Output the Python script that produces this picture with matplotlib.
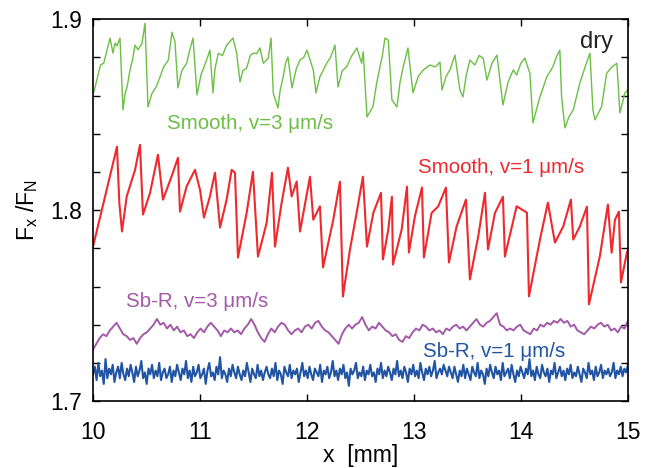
import numpy as np
import matplotlib
matplotlib.use('Agg')
import matplotlib.pyplot as plt
from matplotlib.ticker import MultipleLocator

plt.rcParams['font.family'] = ['Liberation Sans', 'DejaVu Sans']
plt.rcParams['mathtext.default'] = 'regular'

# Smooth, v=3 um/s (green)
green_x = [10.009, 10.040, 10.070, 10.100, 10.130, 10.159, 10.187, 10.206, 10.224, 10.252,
           10.280, 10.300, 10.320, 10.346, 10.370, 10.393, 10.420, 10.458, 10.486, 10.514,
           10.550, 10.590, 10.626, 10.660, 10.704, 10.738, 10.766, 10.794, 10.830, 10.875,
           10.905, 10.935, 10.972, 11.010, 11.062, 11.093, 11.121, 11.140, 11.171, 11.210,
           11.249, 11.308, 11.343, 11.374, 11.400, 11.436, 11.470, 11.498, 11.530, 11.561,
           11.592, 11.638, 11.664, 11.685, 11.729, 11.750, 11.778, 11.800, 11.822, 11.860,
           11.900, 11.935, 11.970, 12.000, 12.059, 12.084, 12.121, 12.150, 12.184, 12.220,
           12.262, 12.290, 12.330, 12.371, 12.420, 12.467, 12.511, 12.526, 12.561, 12.617,
           12.650, 12.682, 12.705, 12.729, 12.760, 12.794, 12.841, 12.870, 12.900, 12.944,
           12.991, 13.040, 13.087, 13.150, 13.200, 13.243, 13.262, 13.300, 13.336, 13.383,
           13.430, 13.458, 13.490, 13.523, 13.570, 13.610, 13.648, 13.682, 13.730, 13.776,
           13.832, 13.880, 13.928, 13.960, 14.000, 14.037, 14.084, 14.112, 14.178, 14.243,
           14.299, 14.330, 14.364, 14.380, 14.411, 14.450, 14.489, 14.551, 14.600, 14.645,
           14.673, 14.692, 14.754, 14.801, 14.850, 14.897, 14.925, 14.972, 15.000]
green_y = [1.8620, 1.8690, 1.8760, 1.8770, 1.8835, 1.8901, 1.8822, 1.8875, 1.8860, 1.8901,
           1.8525, 1.8610, 1.8650, 1.8734, 1.8790, 1.8864, 1.8840, 1.8873, 1.8979, 1.8540,
           1.8610, 1.8645, 1.8697, 1.8750, 1.8786, 1.8932, 1.8882, 1.8640, 1.8730, 1.8769,
           1.8840, 1.8901, 1.8603, 1.8710, 1.8786, 1.8838, 1.8614, 1.8740, 1.8821, 1.8810,
           1.8864, 1.8901, 1.8822, 1.8671, 1.8730, 1.8743, 1.8810, 1.8822, 1.8820, 1.8849,
           1.8769, 1.8795, 1.8901, 1.8612, 1.8535, 1.8630, 1.8699, 1.8770, 1.8802, 1.8640,
           1.8740, 1.8786, 1.8800, 1.8838, 1.8734, 1.8614, 1.8699, 1.8730, 1.8769, 1.8800,
           1.8864, 1.8645, 1.8730, 1.8751, 1.8810, 1.8849, 1.8769, 1.8829, 1.8488, 1.8542,
           1.8660, 1.8749, 1.8810, 1.8901, 1.8890, 1.8577, 1.8540, 1.8670, 1.8751, 1.8849,
           1.8614, 1.8700, 1.8734, 1.8760, 1.8750, 1.8775, 1.8629, 1.8700, 1.8734, 1.8812,
           1.8629, 1.8593, 1.8710, 1.8786, 1.8760, 1.8810, 1.8795, 1.8681, 1.8770, 1.8812,
           1.8551, 1.8670, 1.8734, 1.8708, 1.8770, 1.8796, 1.8716, 1.8457, 1.8594, 1.8699,
           1.8751, 1.8800, 1.8838, 1.8594, 1.8431, 1.8490, 1.8525, 1.8666, 1.8750, 1.8822,
           1.8525, 1.8473, 1.8542, 1.8716, 1.8750, 1.8769, 1.8509, 1.8614, 1.8630]

# Smooth, v=1 um/s (red)
red_x = [10.000, 10.128, 10.224, 10.246, 10.271, 10.315, 10.393, 10.439, 10.467, 10.533,
         10.607, 10.654, 10.735, 10.794, 10.813, 10.875, 10.953, 11.000, 11.037, 11.093,
         11.140, 11.187, 11.249, 11.296, 11.327, 11.355, 11.436, 11.495, 11.542, 11.623,
         11.673, 11.701, 11.763, 11.822, 11.857, 11.904, 11.935, 12.028, 12.059, 12.121,
         12.150, 12.246, 12.308, 12.336, 12.402, 12.464, 12.523, 12.561, 12.620, 12.692,
         12.710, 12.760, 12.794, 12.804, 12.885, 12.935, 12.953, 13.009, 13.075, 13.093,
         13.165, 13.227, 13.299, 13.327, 13.399, 13.486, 13.523, 13.601, 13.664, 13.692,
         13.757, 13.832, 13.850, 13.960, 14.056, 14.075, 14.178, 14.252, 14.318, 14.396,
         14.467, 14.489, 14.551, 14.617, 14.636, 14.738, 14.813, 14.848, 14.879, 14.916,
         14.935, 14.991, 15.000]
red_y = [1.7809, 1.8107, 1.8332, 1.8038, 1.7888, 1.8072, 1.8211, 1.8342, 1.7977, 1.8090,
         1.8290, 1.8055, 1.8177, 1.8274, 1.7992, 1.8124, 1.8211, 1.8107, 1.7961, 1.8072,
         1.8196, 1.7909, 1.8055, 1.8211, 1.8196, 1.7752, 1.7985, 1.8201, 1.7757, 1.7933,
         1.8196, 1.7809, 1.8038, 1.8222, 1.8072, 1.8150, 1.7888, 1.8175, 1.7950, 1.8020,
         1.7700, 1.7950, 1.8149, 1.7548, 1.7794, 1.7985, 1.8175, 1.7809, 1.7985, 1.8091,
         1.7742, 1.7898, 1.8070, 1.7715, 1.7898, 1.8123, 1.7778, 1.7968, 1.8118, 1.7752,
         1.7985, 1.8020, 1.8118, 1.7726, 1.7915, 1.8055, 1.7637, 1.7863, 1.8091, 1.7794,
         1.7985, 1.8070, 1.7757, 1.8020, 1.7987, 1.7548, 1.7846, 1.8039, 1.7830, 1.7915,
         1.8055, 1.7846, 1.7915, 1.8018, 1.7507, 1.7759, 1.8029, 1.7777, 1.7950, 1.7992,
         1.7621, 1.7778, 1.7790]

# Sb-R, v=3 um/s (purple), thousandths above 1.700, evenly spaced over 10..15 mm
purple_k = [27, 30, 33, 35, 34, 37, 39, 41, 38, 35, 34, 32, 33, 30, 33, 35,
            36, 38, 40, 43, 40, 41, 38, 40, 37, 39, 36, 37, 34, 35, 33, 36,
            38, 36, 39, 41, 39, 37, 34, 37, 36, 38, 36, 37, 35, 38, 40, 43,
            40, 36, 33, 31, 35, 38, 36, 39, 41, 40, 37, 35, 37, 38, 36, 39,
            40, 38, 41, 42, 39, 37, 36, 34, 32, 30, 35, 38, 40, 38, 40, 41,
            44, 40, 37, 39, 38, 41, 39, 37, 36, 34, 35, 32, 31, 34, 33, 36,
            38, 37, 40, 39, 37, 38, 36, 37, 35, 38, 37, 39, 40, 38, 39, 37,
            39, 41, 43, 40, 39, 41, 42, 44, 46, 40, 39, 37, 38, 37, 39, 40,
            37, 36, 35, 38, 37, 40, 39, 41, 40, 42, 41, 43, 41, 42, 39, 40,
            37, 36, 35, 37, 39, 38, 40, 41, 39, 40, 37, 38, 36, 39, 38, 42]

# Sb-R, v=1 um/s (blue), thousandths above 1.700, evenly spaced over 10..15 mm
blue_k = [14, 18, 11, 20, 13, 16, 9, 22, 12, 17, 14, 19, 10, 15, 18, 12, 20, 14, 11, 17,
          13, 19, 15, 10, 18, 13, 16, 21, 12, 15, 9, 17, 14, 19, 12, 16, 13, 20, 11, 15,
          17, 12, 14, 18, 10, 16, 13, 19, 15, 11, 17, 14, 21, 12, 16, 10, 18, 13, 15, 19,
          12, 14, 17, 9, 16, 20, 13, 15, 11, 18, 14, 23, 12, 16, 14, 10, 17, 13, 19, 15,
          12, 18, 14, 11, 16, 13, 20, 15, 10, 17, 14, 12, 19, 13, 16, 11, 15, 18, 14, 12,
          17, 13, 20, 11, 16, 14, 9, 18, 15, 13, 19, 12, 16, 14, 17, 10, 15, 20, 13, 16,
          12, 18, 14, 11, 17, 15, 13, 19, 10, 16, 14, 18, 12, 15, 21, 13, 16, 11, 17, 14,
          19, 12, 15, 8, 17, 14, 16, 20, 12, 15, 13, 18, 11, 16, 14, 19, 13, 15, 10, 17,
          14, 20, 12, 16, 13, 18, 15, 11, 17, 14, 21, 13, 16, 12, 18, 15, 10, 17, 14, 19,
          13, 16, 12, 20, 15, 11, 17, 14, 18, 13, 16, 21, 12, 15, 17, 14, 19, 16, 13, 18,
          15, 12, 18, 14, 10, 16, 13, 19, 12, 17, 14, 11, 18, 15, 13, 20, 12, 16, 14, 9,
          17, 13, 19, 15, 12, 18, 14, 16, 11, 20, 13, 15, 17, 12, 19, 14, 10, 16, 13, 18,
          15, 12, 17, 14, 22, 13, 16, 11, 18, 14, 12, 19, 15, 13, 17, 10, 16, 14, 20, 12,
          15, 18, 13, 16, 11, 17, 14, 19, 12, 15, 13, 18, 14, 10, 17, 15, 12, 20, 14, 16,
          11, 18, 13, 15, 19, 12, 16, 14, 17, 13, 15, 20, 12, 16, 14, 18, 13, 17, 15, 19]

c_green = '#6cbf45'
c_red = '#ee2a2e'
c_purple = '#a25aa8'
c_blue = '#2155a3'

purple_x = np.linspace(10, 15, len(purple_k))
purple_y = 1.7 + np.array(purple_k) / 1000.0
blue_x = np.linspace(10, 15, len(blue_k))
blue_y = 1.7 + np.array(blue_k) / 1000.0

fig = plt.figure(figsize=(6.62, 4.68), dpi=100)
ax = fig.add_axes([0.1405, 0.143, 0.808, 0.816])

ax.plot(green_x, green_y, color=c_green, lw=1.0)
ax.plot(red_x, red_y, color=c_red, lw=1.5)
ax.plot(purple_x, purple_y, color=c_purple, lw=1.4)
ax.plot(blue_x, blue_y, color=c_blue, lw=1.5)

ax.set_xlim(10, 15)
ax.set_ylim(1.7, 1.9)
ax.xaxis.set_major_locator(MultipleLocator(1))
ax.yaxis.set_major_locator(MultipleLocator(0.1))
ax.yaxis.set_minor_locator(MultipleLocator(0.02))
ax.tick_params(which='both', direction='in', top=True, right=True, labelsize=16.5, width=1)
ax.tick_params(which='major', length=5)
ax.tick_params(which='minor', length=5)
ax.tick_params(axis='x', which='major', pad=14)
ax.tick_params(axis='y', which='major', pad=8)
for s in ax.spines.values():
    s.set_linewidth(1.2)

ax.set_xlabel('x  [mm]', fontsize=16.5, labelpad=0)
ax.set_ylabel('F$_x$ /F$_N$', fontsize=16.5, labelpad=7)

ax.text(14.86, 1.888, 'dry', fontsize=17, ha='right', va='center', color='#222222')
ax.text(11.467, 1.8452, 'Smooth, v=3 μm/s', fontsize=14.8, ha='center', va='center', color=c_green)
ax.text(13.818, 1.8222, 'Smooth, v=1 μm/s', fontsize=14.8, ha='center', va='center', color=c_red)
ax.text(10.977, 1.7522, 'Sb-R, v=3 μm/s', fontsize=14.8, ha='center', va='center', color=c_purple)
ax.text(13.752, 1.7261, 'Sb-R, v=1 μm/s', fontsize=14.8, ha='center', va='center', color=c_blue)

fig.savefig('out.png', dpi=100)
